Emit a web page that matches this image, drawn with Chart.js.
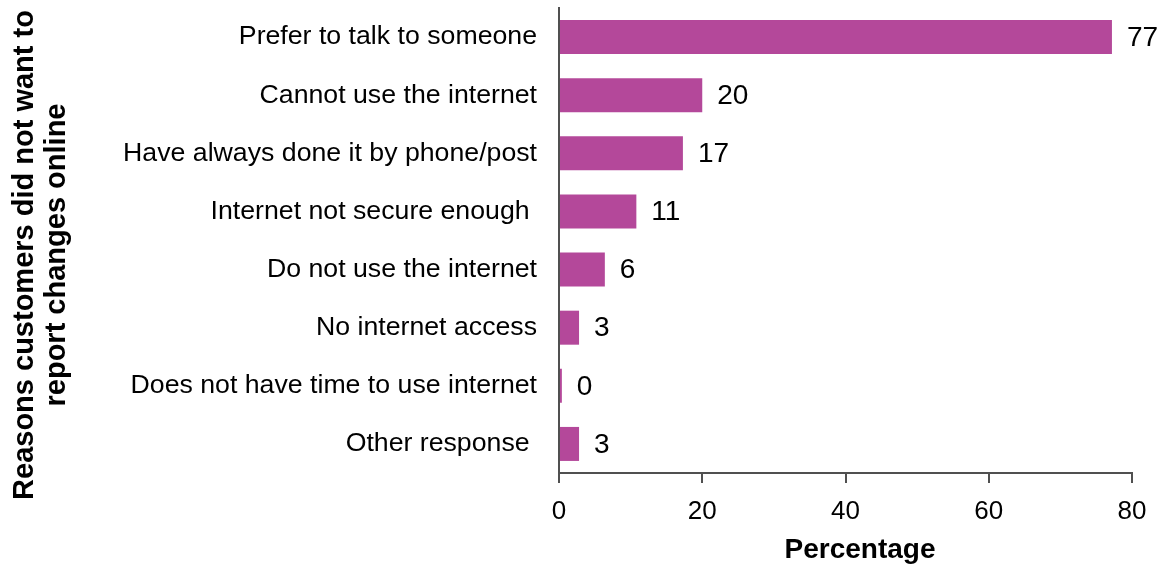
<!DOCTYPE html>
<html>
<head>
<meta charset="utf-8">
<script src="https://cdn.jsdelivr.net/npm/chart.js@4"></script>
<style>
  html, body { margin: 0; padding: 0; background: #ffffff; }
  #wrap { width: 1166px; height: 566px; }
</style>
</head>
<body>
<div id="wrap"><canvas id="reasonsChart"></canvas></div>
<script>
const reasons = [
  'Prefer to talk to someone',
  'Cannot use the internet',
  'Have always done it by phone/post',
  'Internet not secure enough ',
  'Do not use the internet',
  'No internet access',
  'Does not have time to use internet',
  'Other response '
];
const percentages = [77.2, 20, 17.3, 10.8, 6.4, 2.8, 0.4, 2.8];
const xTicks = [0, 20, 40, 60, 80];

const barColour = '#B4489A';
const axisColour = '#505050';
const fontFamily = 'Arial, "Liberation Sans", sans-serif';

// value labels just past the end of each bar
const valueLabels = {
  id: 'valueLabels',
  afterDatasetsDraw(chart) {
    const ctx = chart.ctx;
    const meta = chart.getDatasetMeta(0);
    ctx.save();
    ctx.font = '28px ' + fontFamily;
    ctx.fillStyle = '#000000';
    ctx.textAlign = 'left';
    ctx.textBaseline = 'middle';
    meta.data.forEach((bar, i) => {
      ctx.fillText(String(Math.round(percentages[i])), bar.x + 15, bar.y + 1);
    });
    ctx.restore();
  }
};

// axis titles: two-line rotated one on the left, "Percentage" under the x axis
const axisTitles = {
  id: 'axisTitles',
  afterDraw(chart) {
    const ctx = chart.ctx;
    const lines = ['Reasons customers did not want to', 'report changes online'];
    ctx.save();
    ctx.fillStyle = '#000000';
    ctx.textAlign = 'center';
    ctx.textBaseline = 'middle';
    ctx.font = 'bold 28px ' + fontFamily;
    ctx.fillText('Percentage', 860, 550);
    ctx.font = 'bold 29px ' + fontFamily;
    ctx.translate(0, 255);
    ctx.rotate(-Math.PI / 2);
    lines.forEach((line, i) => {
      ctx.fillText(line, 0, 25 + i * 32);
    });
    ctx.restore();
  }
};

new Chart(document.getElementById('reasonsChart'), {
  type: 'bar',
  data: {
    labels: reasons,
    datasets: [{
      data: percentages,
      backgroundColor: barColour,
      borderWidth: 0,
      barPercentage: 0.585,
      categoryPercentage: 1
    }]
  },
  plugins: [valueLabels, axisTitles],
  options: {
    indexAxis: 'y',
    responsive: true,
    maintainAspectRatio: false,
    animation: false,
    layout: { padding: { top: 8, right: 34, left: 0, bottom: 0 } },
    plugins: {
      legend: { display: false },
      tooltip: { enabled: false }
    },
    scales: {
      x: {
        min: 0,
        max: 80,
        afterBuildTicks(scale) {
          scale.ticks = xTicks.map(v => ({ value: v }));
        },
        afterFit(scale) { scale.height = 93; },
        border: { display: true, color: axisColour, width: 2 },
        grid: { drawOnChartArea: false, drawTicks: true, tickLength: 10, color: axisColour, lineWidth: 2 },
        ticks: { color: '#000000', padding: 13, font: { family: fontFamily, size: 26 } }
      },
      y: {
        afterFit(scale) {
          scale.width = 559;
          scale.paddingTop = 0;
          scale.paddingBottom = 0;
        },
        border: { display: true, color: axisColour, width: 2 },
        grid: { display: false, drawTicks: false },
        ticks: { color: '#000000', padding: 22, font: { family: fontFamily, size: 26.7 } }
      }
    }
  }
});
</script>
</body>
</html>
